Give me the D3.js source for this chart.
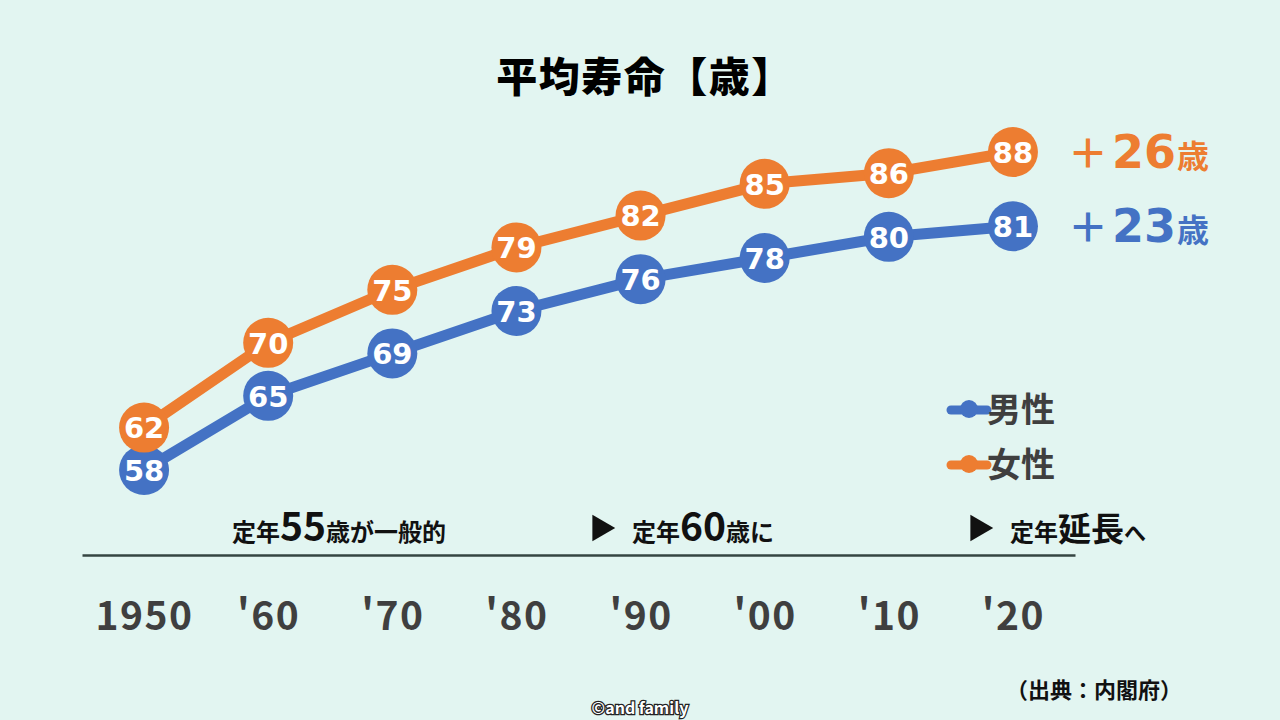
<!DOCTYPE html>
<html lang="ja">
<head>
<meta charset="utf-8">
<script src="https://cdn.jsdelivr.net/npm/d3@7"></script>
<style>
  html, body { margin: 0; padding: 0; background: #E2F5F1; }
  svg { display: block; font-family: "Noto Sans CJK JP", "Noto Sans", sans-serif; }
</style>
</head>
<body>
<div id="chart"></div>
<script>
// Data
const years = ["1950", "'60", "'70", "'80", "'90", "'00", "'10", "'20"];
const male = [58, 65, 69, 73, 76, 78, 80, 81];
const female = [62, 70, 75, 79, 82, 85, 86, 88];
const seriesNames = ["男性", "女性"];
const gains = ["23", "26"];

const W = 1280, H = 720;
const blue = "#4472C4", orange = "#ED7D31", ink = "#3F3F3F";

const svg = d3.select("#chart").append("svg")
    .attr("width", W)
    .attr("height", H);

svg.append("rect").attr("width", W).attr("height", H).attr("fill", "#E2F5F1");

// Title
svg.append("text")
    .attr("x", 645)
    .attr("y", 92)
    .attr("text-anchor", "middle")
    .style("font-size", "41px")
    .style("font-weight", "900")
    .style("letter-spacing", "1.5px")
    .attr("fill", "#000")
    .text("平均寿命【歳】");

// Scales
const x = d3.scalePoint().domain(years).range([82, 1075]).padding(0.5);
const y = d3.scaleLinear().domain([58, 88]).range([470, 152]);

// X axis (baseline + year labels)
const axis = svg.append("g")
    .attr("transform", "translate(0,555)")
    .call(d3.axisBottom(x).tickSize(0).tickPadding(47));
axis.select(".domain").attr("stroke", "#354542").attr("stroke-width", 2.5);
axis.selectAll("text")
    .attr("fill", ink)
    .style("font-family", "'Noto Sans CJK JP', sans-serif")
    .style("font-size", "39px")
    .style("font-weight", "700")
    .style("letter-spacing", "1.5px");

// Lines and points
const series = [
    { name: seriesNames[0], values: male, color: blue, gain: gains[0] },
    { name: seriesNames[1], values: female, color: orange, gain: gains[1] }
];

const line = d3.line()
    .x((d, i) => x(years[i]))
    .y(d => y(d));

series.forEach(s => {
    svg.append("path")
        .datum(s.values)
        .attr("fill", "none")
        .attr("stroke", s.color)
        .attr("stroke-width", 11)
        .attr("d", line);
});

series.forEach(s => {
    const g = svg.append("g");
    g.selectAll("circle")
        .data(s.values)
        .enter()
        .append("circle")
        .attr("cx", (d, i) => x(years[i]))
        .attr("cy", d => y(d))
        .attr("r", 25)
        .attr("fill", s.color);
    g.selectAll("text")
        .data(s.values)
        .enter()
        .append("text")
        .attr("x", (d, i) => x(years[i]))
        .attr("y", d => y(d))
        .attr("dy", "0.37em")
        .attr("text-anchor", "middle")
        .attr("fill", "#fff")
        .style("font-family", "'DejaVu Sans', sans-serif")
        .style("font-size", "29px")
        .style("font-weight", "700")
        .text(d => d);

    // gain label at the right end
    const last = s.values[s.values.length - 1];
    const t = svg.append("text")
        .attr("x", 1068)
        .attr("y", y(last) + 16)
        .attr("fill", s.color)
        .style("font-weight", "700");
    t.append("tspan").style("font-size", "40px").text("＋");
    t.append("tspan")
        .attr("dx", 4)
        .style("font-family", "'DejaVu Sans', sans-serif")
        .style("font-size", "46px")
        .text(s.gain);
    t.append("tspan").attr("dx", 1).style("font-size", "32px").text("歳");
});

// Legend
series.forEach((s, i) => {
    const ly = 410 + i * 55;
    svg.append("line")
        .attr("x1", 951).attr("x2", 987)
        .attr("y1", ly).attr("y2", ly)
        .attr("stroke", s.color)
        .attr("stroke-width", 9)
        .attr("stroke-linecap", "round");
    svg.append("circle")
        .attr("cx", 969).attr("cy", ly - 1)
        .attr("r", 9)
        .attr("fill", s.color);
    svg.append("text")
        .attr("x", 987)
        .attr("y", ly + 12)
        .attr("fill", ink)
        .style("font-size", "34px")
        .style("font-weight", "700")
        .text(s.name);
});

// Retirement-age annotations
function note(xPos, parts) {
    const t = svg.append("text")
        .attr("x", xPos)
        .attr("y", 541)
        .attr("fill", "#111")
        .style("font-weight", "700");
    parts.forEach(p => t.append("tspan").style("font-size", p[1] + "px").text(p[0]));
}
note(232, [["定年", 24], ["55", 39], ["歳が一般的", 24]]);
note(632, [["定年", 24], ["60", 39], ["歳に", 24]]);
note(1010, [["定年", 24], ["延長", 33], ["へ", 22]]);

[590, 968].forEach(px => {
    svg.append("path")
        .attr("d", d3.symbol(d3.symbolTriangle, 300)())
        .attr("transform", `translate(${px + 10},528) rotate(90)`)
        .attr("fill", "#111");
});

// Source
svg.append("text")
    .attr("x", 1182)
    .attr("y", 698)
    .attr("text-anchor", "end")
    .attr("fill", "#111")
    .style("font-size", "22px")
    .style("font-weight", "700")
    .text("（出典：内閣府）");

// Credit
svg.append("text")
    .attr("x", 640)
    .attr("y", 714)
    .attr("text-anchor", "middle")
    .attr("fill", "#fff")
    .attr("stroke", "#222")
    .attr("stroke-width", 2.5)
    .attr("paint-order", "stroke")
    .style("font-size", "16px")
    .style("font-weight", "700")
    .text("©and family");
</script>
</body>
</html>
